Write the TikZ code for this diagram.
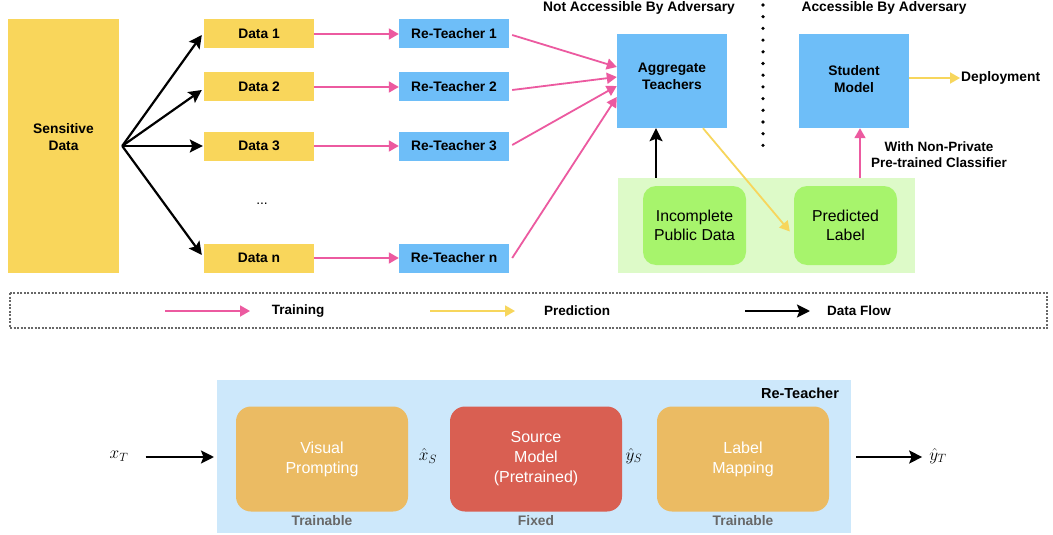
\documentclass[tikz,border=0pt]{standalone}
\usepackage{fontspec}
\setmainfont{Liberation Sans}
\usetikzlibrary{arrows.meta,calc}

\definecolor{datayellow}{HTML}{F9D65B}
\definecolor{teachblue}{HTML}{6EBEF8}
\definecolor{trainpink}{HTML}{EC5AA0}
\definecolor{predyellow}{HTML}{F7D65C}
\definecolor{pubbg}{HTML}{DDFAC8}
\definecolor{pubgreen}{HTML}{A7F46C}
\definecolor{rtbg}{HTML}{CDE8FB}
\definecolor{stageorange}{HTML}{EBBB63}
\definecolor{stagered}{HTML}{D95F52}
\definecolor{notegray}{HTML}{686868}

\begin{document}
\begin{tikzpicture}[x=1pt,y=-1pt,
  lbl/.style={inner sep=1pt, align=center, font=\fontsize{13.8}{17}\selectfont\bfseries},
  databox/.style={lbl, inner sep=0pt, fill=datayellow, minimum width=110pt, minimum height=29pt},
  teachbox/.style={lbl, inner sep=0pt, fill=teachblue, minimum width=110pt, minimum height=29pt},
  bigblue/.style={fill=teachblue, inner sep=0pt, minimum width=110pt, minimum height=94pt},
  pubbox/.style={fill=pubgreen, rounded corners=13pt, inner sep=0pt, minimum width=103pt, minimum height=79pt,
                 align=center, font=\fontsize{15.8}{19}\selectfont},
  stagebox/.style={rounded corners=15pt, inner sep=0pt, minimum width=172pt, minimum height=105pt,
                 align=center, text=white, font=\fontsize{16}{20}\selectfont},
  note/.style={inner sep=1pt, font=\fontsize{13.8}{16}\selectfont\bfseries, text=notegray},
  mathlbl/.style={inner sep=1pt, font=\fontsize{18.5}{22}\selectfont},
  train/.style={draw=trainpink, line width=1.8pt, -{Triangle[length=10pt,width=11pt]}},
  pred/.style={draw=predyellow, line width=1.8pt, -{Triangle[length=10pt,width=11pt]}},
  flow/.style={draw=black, line width=2.2pt, -{Stealth[length=13pt,width=13pt,inset=2.5pt]}}]

\fill[white] (0,0) rectangle (1053,535);
\useasboundingbox (0,0) rectangle (1053,535);

% ---------- sensitive data and its partitions ----------
\node[fill=datayellow, minimum width=111pt, minimum height=254pt, inner sep=0pt] (sens) at (63.5,146) {};
\node[lbl] (senslbl) at (63.5,137) {Sensitive\\Data};

\node[databox] (d1) at (259,34) {Data 1};
\node[databox] (d2) at (259,87) {Data 2};
\node[databox] (d3) at (259,146) {Data 3};
\node[databox] (dn) at (259,258) {Data n};
\node[lbl, font=\fontsize{13.8}{16}\selectfont] (dots) at (262,204) {...};

\node[teachbox] (t1) at (454,34) {Re-Teacher 1};
\node[teachbox] (t2) at (454,87) {Re-Teacher 2};
\node[teachbox] (t3) at (454,146) {Re-Teacher 3};
\node[teachbox] (tn) at (454,258) {Re-Teacher n};

\coordinate (split) at ($(sens.east)+(3,0)$);
\draw[flow] (split) -- ($(d1.west)+(-2,1)$);
\draw[flow] (split) -- ($(d2.west)+(-2,3)$);
\draw[flow] (split) -- ($(d3.west)+(-1,0)$);
\draw[flow] (split) -- ($(dn.west)+(-2,-3)$);

\draw[train] (d1.east) -- (t1.west);
\draw[train] (d2.east) -- (t2.west);
\draw[train] (d3.east) -- (t3.west);
\draw[train] (dn.east) -- (tn.west);

% ---------- aggregation ----------
\node[lbl] (hdrL) at (639,8) {Not Accessible By Adversary};
\node[lbl] (hdrR) at (884,8) {Accessible By Adversary};
\draw[line width=3.6pt, line cap=round, dash pattern=on 0pt off 11.7pt] (763,5) -- (763,157);

\node[bigblue] (agg) at (672,81) {};
\node[lbl] (agglbl) at (672,76) {Aggregate\\Teachers};
\node[bigblue] (stud) at (854,81) {};
\node[lbl] (studlbl) at (854,79.5) {Student\\Model};
\node[lbl, anchor=west] (dep) at (960,78) {Deployment};
\node[lbl, font=\fontsize{13.5}{16}\selectfont\bfseries] (cls) at (939,155) {With Non-Private\\Pre-trained Classifier};

\draw[train] ($(t1.east)+(3,1)$) -- ($(agg.west)+(0,-14)$);
\draw[train] ($(t2.east)+(3,3)$) -- ($(agg.west)+(0,-4)$);
\draw[train] ($(t3.east)+(3,-1)$) -- ($(agg.west)+(0,5)$);
\draw[train] ($(tn.east)+(3,0)$) -- ($(agg.west)+(0,16)$);

\node[fill=pubbg, minimum width=297pt, minimum height=95pt, inner sep=0pt] (pub) at (766.5,225.5) {};
\node[pubbox] (inc) at (694.5,225.5) {Incomplete\\Public Data};
\node[pubbox] (plab) at (845.5,225.5) {Predicted\\Label};

\draw[flow] ([xshift=-16pt]agg.south |- pub.north) -- ([xshift=-16pt]agg.south);
\draw[pred] ([xshift=31pt]agg.south) -- ($(plab.west)+(-4,6)$);
\draw[train] ([xshift=6pt]stud.south |- pub.north) -- ([xshift=6pt]stud.south);
\draw[pred] (stud.east |- dep.west) -- (dep.west);

% ---------- legend ----------
\draw[notegray, line width=1.1pt, dash pattern=on 2pt off 1.5pt] (10,293) rectangle (1047,328);
\coordinate (lgA0) at (165,311); \coordinate (lgA1) at (250,311);
\coordinate (lgB0) at (430,311); \coordinate (lgB1) at (515,311);
\coordinate (lgC0) at (745,311); \coordinate (lgC1) at (810,311);
\draw[train] (lgA0) -- (lgA1);
\draw[pred] (lgB0) -- (lgB1);
\draw[flow] (lgC0) -- (lgC1);
\node[lbl, font=\fontsize{13.5}{16}\selectfont\bfseries] (lgA) at (298,311) {Training};
\node[lbl, font=\fontsize{13.5}{16}\selectfont\bfseries] (lgB) at (577,311) {Prediction};
\node[lbl, font=\fontsize{13.5}{16}\selectfont\bfseries] (lgC) at (859,311) {Data Flow};

% ---------- re-teacher pipeline ----------
\node[fill=rtbg, minimum width=634pt, minimum height=153pt, inner sep=0pt] (rt) at (534,456) {};
\node[lbl, font=\fontsize{14.5}{16}\selectfont\bfseries] (rtlbl) at (800,393) {Re-Teacher};

\node[stagebox, fill=stageorange] (vp) at (322,459) {Visual\\Prompting};
\node[stagebox, fill=stagered] (sm) at (536,459) {Source\\Model\\(Pretrained)};
\node[stagebox, fill=stageorange] (lm) at (743,459) {Label\\Mapping};
\node[note] (vpn) at (322,521) {Trainable};
\node[note] (smn) at (536,521) {Fixed};
\node[note] (lmn) at (743,521) {Trainable};

\node[mathlbl] (xt) at (119,456) {$x_T$};
\node[mathlbl] (xs) at (428,456) {$\hat{x}_S$};
\node[mathlbl] (ys) at (634,456) {$\hat{y}_S$};
\node[mathlbl] (yt) at (938,456) {$\hat{y}_T$};

\coordinate (inEnd) at (214,457);
\coordinate (outStart) at (856,457);
\draw[flow] ($(xt.east)+(16,1)$) -- (inEnd);
\draw[flow] (outStart) -- ($(yt.west)+(-6,1)$);

\end{tikzpicture}
\end{document}
